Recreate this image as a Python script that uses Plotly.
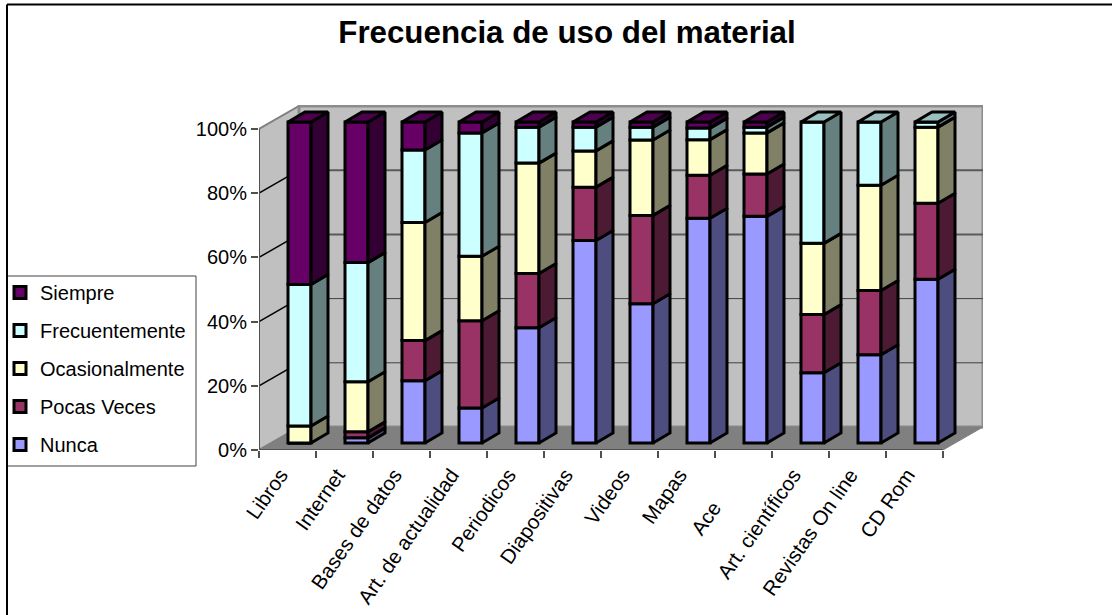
import plotly.graph_objects as go

categories = ["Libros", "Internet", "Bases de datos", "Art. de actualidad", "Periodicos", "Diapositivas",
              "Videos", "Mapas", "Ace", "Art. científicos", "Revistas On line", "CD Rom"]
nunca = [0, 1.6, 19.4, 10.9, 35.9, 63.1, 43.4, 70.0, 70.6, 21.9, 27.5, 51.0]
pocas = [0, 1.9, 12.5, 27.2, 16.9, 16.6, 27.5, 13.4, 13.2, 18.1, 20.0, 23.7]
ocasional = [5.3, 15.6, 36.8, 20.1, 34.4, 11.3, 23.5, 11.1, 12.8, 22.2, 32.8, 23.7]
frecuente = [44.1, 37.1, 22.6, 38.4, 11.2, 7.4, 4.0, 3.6, 1.8, 37.8, 19.7, 1.6]
siempre = [50.6, 43.8, 8.7, 3.4, 1.6, 1.6, 1.6, 1.9, 1.6, 0, 0, 0]
series_names = ["Nunca", "Pocas Veces", "Ocasionalmente", "Frecuentemente", "Siempre"]
series_values = [nunca, pocas, ocasional, frecuente, siempre]
y_ticks = [0, 20, 40, 60, 80, 100]

front_colors = ["#9999FF", "#993366", "#FFFFCC", "#CCFFFF", "#660066"]
side_colors = ["#4D4D80", "#4D1A33", "#808066", "#668080", "#330033"]
top_colors = ["#7373BF", "#73264D", "#BFBF99", "#99BFBF", "#4D004D"]

# pixel frame of the drawing
L, R, B, T = 259, 983, 450, 105
UX, UY = 57.0, 3.21           # px per category, px per percent
WALL_DX, WALL_DY = 40 / UX, 23 / UY
BAR_X0, BAR_Y0 = 0.7105, 7 / UY
BAR_W = 23 / UX
DEPTH_X, DEPTH_Y = 17 / UX, 10 / UY
N = len(categories)
EDGE = 3


def path(points):
    return "M" + "L".join(f"{x:.4f},{y:.4f}" for x, y in points) + "Z"


shapes = []


def add_poly(points, fill, line="#808080", width=2):
    shapes.append(dict(type="path", xref="x", yref="y", layer="below", path=path(points),
                       fillcolor=fill, line=dict(color=line, width=width)))


# walls and floor
add_poly([(0, 0), (WALL_DX, WALL_DY), (WALL_DX, 100 + WALL_DY), (0, 100)], "#C0C0C0")
add_poly([(WALL_DX, WALL_DY), (N + WALL_DX, WALL_DY), (N + WALL_DX, 100 + WALL_DY), (WALL_DX, 100 + WALL_DY)], "#C0C0C0", line="#8C8C8C", width=3)
add_poly([(0, 0), (N, 0), (N + WALL_DX, WALL_DY), (WALL_DX, WALL_DY)], "#808080", line="#808080", width=1)
for t in y_ticks[1:-1]:
    # diagonal grid line on the side wall, drawn as a closed path so it sits on top of the wall
    shapes.append(dict(type="path", xref="x", yref="y", layer="below",
                       path=f"M0,{t}L{WALL_DX:.4f},{t + WALL_DY:.4f}",
                       line=dict(color="#000000", width=1.5)))
    shapes.append(dict(type="line", xref="x", yref="y", layer="below", x0=WALL_DX, y0=t + WALL_DY, x1=N + WALL_DX,
                       y1=t + WALL_DY, line=dict(color="#5A5A5A" if t >= 60 else "#404040", width=2 if t >= 60 else 1)))
# axis lines
shapes.append(dict(type="line", xref="x", yref="y", layer="below", x0=0, y0=0, x1=N, y1=0, line=dict(color="#505050", width=2)))
shapes.append(dict(type="line", xref="x", yref="y", layer="below", x0=0, y0=0, x1=0, y1=100, line=dict(color="#505050", width=2)))


def px_x(v):
    return (v - L) / (R - L)


def px_y(v):
    return (B - v) / (B - T)


# legend box and outer frame
shapes.append(dict(type="rect", xref="paper", yref="paper", layer="below", x0=px_x(7), x1=px_x(196), y0=px_y(466), y1=px_y(276),
                   fillcolor="white", line=dict(color="#404040", width=1)))
shapes.append(dict(type="line", xref="paper", yref="paper", layer="below", x0=px_x(7), x1=px_x(1130), y0=px_y(4.5), y1=px_y(4.5),
                   line=dict(color="#000000", width=2)))
shapes.append(dict(type="line", xref="paper", yref="paper", layer="below", x0=px_x(7), x1=px_x(7), y0=px_y(640), y1=px_y(4.5),
                   line=dict(color="#000000", width=2)))

fig = go.Figure()

xs = [i + BAR_X0 for i in range(N)]
cum = [0.0] * N
for k, (name, vals) in enumerate(zip(series_names, series_values)):
    bases = [c + BAR_Y0 for c in cum]
    fig.add_trace(go.Bar(x=xs, y=vals, base=bases, width=BAR_W, name=name, legendgroup=name,
                         legendrank=100 - k,
                         marker=dict(color=front_colors[k], line=dict(color="black", width=EDGE)),
                         hoverinfo="skip"))
    sx, sy = [], []
    tx, ty = [], []
    for i in range(N):
        v = vals[i]
        if v <= 0:
            continue
        right = xs[i] + BAR_W / 2
        left = xs[i] - BAR_W / 2
        b = bases[i]
        t = b + v
        sx += [right, right + DEPTH_X, right + DEPTH_X, right, right, None]
        sy += [b, b + DEPTH_Y, t + DEPTH_Y, t, b, None]
        if all(series_values[j][i] == 0 for j in range(k + 1, len(series_values))):
            tx += [left, left + DEPTH_X, right + DEPTH_X, right, left, None]
            ty += [t, t + DEPTH_Y, t + DEPTH_Y, t, t, None]
    fig.add_trace(go.Scatter(x=sx, y=sy, mode="lines", fill="toself", fillcolor=side_colors[k],
                             line=dict(color="black", width=EDGE), showlegend=False, hoverinfo="skip"))
    if tx:
        fig.add_trace(go.Scatter(x=tx, y=ty, mode="lines", fill="toself", fillcolor=top_colors[k],
                                 line=dict(color="black", width=EDGE), showlegend=False, hoverinfo="skip"))
    cum = [c + v for c, v in zip(cum, vals)]

# the truncated "Ace" label sits further down its slanted line than its neighbours
tick_text = [c + "\u00a0" * 7 if c == "Ace" else c for c in categories]

FONT = "Liberation Sans, Arial, sans-serif"
fig.update_layout(
    width=1112, height=615, autosize=False,
    margin=dict(l=L, r=1112 - R, t=T, b=615 - B, pad=0, autoexpand=False),
    paper_bgcolor="white", plot_bgcolor="white",
    barmode="overlay", shapes=shapes,
    font=dict(family=FONT, color="black", size=20),
    title=dict(text="<b>Frecuencia de uso del material</b>", x=567 / 1112, xanchor="center", xref="container",
               y=1 - 32 / 615, yanchor="middle", font=dict(size=31.3, family=FONT, color="black")),
    xaxis=dict(range=[0, (R - L) / UX], tickmode="array", tickvals=[i + 0.5 - 7 / UX for i in range(N)], ticktext=tick_text,
               tickangle=-55, ticks="", showgrid=False, zeroline=False, showline=False, ticklabelstandoff=8,
               tickfont=dict(size=20.5, family=FONT, color="black"),
               minor=dict(tickmode="array", tickvals=list(range(N + 1)), ticks="outside", ticklen=7, tickwidth=2, tickcolor="#505050", showgrid=False)),
    yaxis=dict(range=[0, (B - T) / UY], tickmode="array", tickvals=y_ticks, ticktext=[f"{t}%" for t in y_ticks],
               ticks="outside", ticklen=7, tickwidth=2, tickcolor="#505050", showgrid=False, zeroline=False, showline=False,
               tickfont=dict(size=20, family=FONT, color="black")),
    legend=dict(xref="container", yref="container", x=0.0, y=1 - 273 / 615, xanchor="left", yanchor="top", bgcolor="rgba(0,0,0,0)", borderwidth=0,
                traceorder="grouped", tracegroupgap=9, font=dict(size=20, family=FONT, color="black")),
)

fig.write_html("out.html", config={"displayModeBar": False},
               post_script="document.body.style.margin='0';document.body.style.overflow='hidden';")
